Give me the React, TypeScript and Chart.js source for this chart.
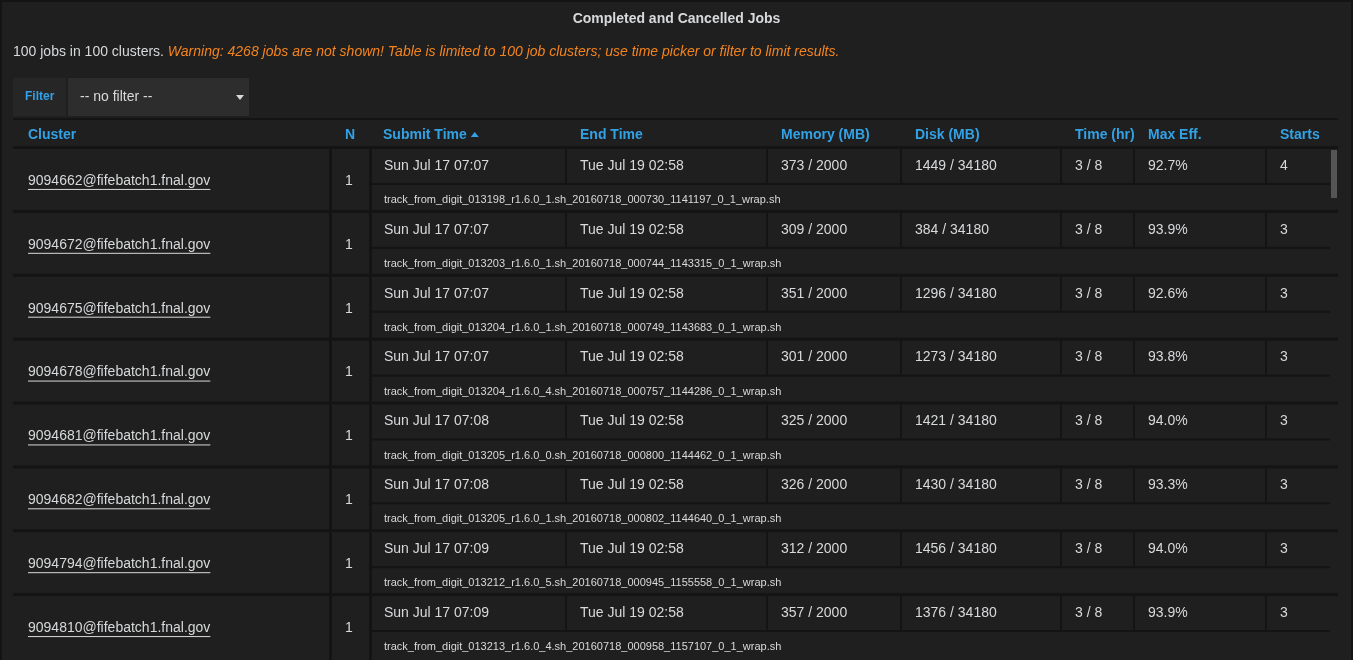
import { useEffect, useRef } from 'react';
import { Chart, registerables } from 'chart.js';

Chart.register(...registerables);

const clusters = ['9094662@fifebatch1.fnal.gov', '9094672@fifebatch1.fnal.gov', '9094675@fifebatch1.fnal.gov', '9094678@fifebatch1.fnal.gov', '9094681@fifebatch1.fnal.gov', '9094682@fifebatch1.fnal.gov', '9094794@fifebatch1.fnal.gov', '9094810@fifebatch1.fnal.gov'];
const counts = [1, 1, 1, 1, 1, 1, 1, 1];
const submitTimes = ['Sun Jul 17 07:07', 'Sun Jul 17 07:07', 'Sun Jul 17 07:07', 'Sun Jul 17 07:07', 'Sun Jul 17 07:08', 'Sun Jul 17 07:08', 'Sun Jul 17 07:09', 'Sun Jul 17 07:09'];
const endTimes = ['Tue Jul 19 02:58', 'Tue Jul 19 02:58', 'Tue Jul 19 02:58', 'Tue Jul 19 02:58', 'Tue Jul 19 02:58', 'Tue Jul 19 02:58', 'Tue Jul 19 02:58', 'Tue Jul 19 02:58'];
const memoryUsed = [373, 309, 351, 301, 325, 326, 312, 357];
const memoryLimit = 2000;
const diskUsed = [1449, 384, 1296, 1273, 1421, 1430, 1456, 1376];
const diskLimit = 34180;
const hoursUsed = [3, 3, 3, 3, 3, 3, 3, 3];
const hoursLimit = 8;
const maxEff = [92.7, 93.9, 92.6, 93.8, 94.0, 93.3, 94.0, 93.9];
const starts = [4, 3, 3, 3, 3, 3, 3, 3];
const scripts = [
  'track_from_digit_013198_r1.6.0_1.sh_20160718_000730_1141197_0_1_wrap.sh',
  'track_from_digit_013203_r1.6.0_1.sh_20160718_000744_1143315_0_1_wrap.sh',
  'track_from_digit_013204_r1.6.0_1.sh_20160718_000749_1143683_0_1_wrap.sh',
  'track_from_digit_013204_r1.6.0_4.sh_20160718_000757_1144286_0_1_wrap.sh',
  'track_from_digit_013205_r1.6.0_0.sh_20160718_000800_1144462_0_1_wrap.sh',
  'track_from_digit_013205_r1.6.0_1.sh_20160718_000802_1144640_0_1_wrap.sh',
  'track_from_digit_013212_r1.6.0_5.sh_20160718_000945_1155558_0_1_wrap.sh',
  'track_from_digit_013213_r1.6.0_4.sh_20160718_000958_1157107_0_1_wrap.sh',
];
const headers = ['Cluster', 'N', 'Submit Time', 'End Time', 'Memory (MB)', 'Disk (MB)', 'Time (hr)', 'Max Eff.', 'Starts'];

const FONT = '"Liberation Sans", Arial, sans-serif';
const BLUE = '#33a2e5';
const TEXT = '#d8d9da';
const LINE = '#141414';
const BG = '#1f1f20';
// column text x and separator positions
const headX = [28, 345, 383, 580, 781, 915, 1075, 1148, 1280];
const cellX = [28, 349, 384, 580, 781, 915, 1075, 1148, 1280];
const seps = [329, 369, 565, 766, 900, 1060, 1133, 1265];

const tablePlugin = {
  id: 'jobTable',
  afterDraw(chart: Chart) {
    const ctx = chart.ctx;
    const y = chart.scales.y;
    const W = chart.width;
    ctx.save();
    ctx.fillStyle = '#141414';
    ctx.fillRect(0, 0, W, chart.height);
    ctx.fillStyle = BG;
    ctx.fillRect(2, 2, W - 4, chart.height - 2);
    ctx.textBaseline = 'middle';
    ctx.fillStyle = TEXT;
    ctx.font = `bold 14px ${FONT}`;
    ctx.textAlign = 'center';
    ctx.fillText('Completed and Cancelled Jobs', W / 2, 19);
    ctx.textAlign = 'left';
    ctx.font = `14px ${FONT}`;
    const lead = '100 jobs in 100 clusters. ';
    ctx.fillText(lead, 13, 52);
    const lw = ctx.measureText(lead).width;
    ctx.fillStyle = '#f4841e';
    ctx.font = `italic 14px ${FONT}`;
    ctx.fillText('Warning: 4268 jobs are not shown! Table is limited to 100 job clusters; use time picker or filter to limit results.', 13 + lw, 52);
    // filter
    ctx.fillStyle = '#262627';
    ctx.fillRect(13, 78, 53, 38);
    ctx.fillStyle = '#2d2d2e';
    ctx.fillRect(68, 78, 181, 38);
    ctx.fillStyle = BLUE;
    ctx.font = `bold 12px ${FONT}`;
    ctx.fillText('Filter', 25, 97);
    ctx.fillStyle = TEXT;
    ctx.font = `14px ${FONT}`;
    ctx.fillText('-- no filter --', 80, 97);
    ctx.beginPath();
    ctx.moveTo(236, 95); ctx.lineTo(244, 95); ctx.lineTo(240, 100); ctx.closePath();
    ctx.fill();
    // header
    ctx.fillStyle = LINE;
    ctx.fillRect(13, 118, 1325, 2);
    ctx.font = `bold 14px ${FONT}`;
    ctx.fillStyle = BLUE;
    headers.forEach((h, i) => ctx.fillText(h, headX[i], 135));
    const sw = ctx.measureText('Submit Time').width;
    ctx.beginPath();
    ctx.moveTo(headX[2] + sw + 4, 137); ctx.lineTo(headX[2] + sw + 12, 137); ctx.lineTo(headX[2] + sw + 8, 132); ctx.closePath();
    ctx.fill();
    // rows
    clusters.forEach((c, i) => {
      const top = y.getPixelForValue(i);
      const bot = y.getPixelForValue(i + 1);
      const mid = top + (bot - top) / 2 + 3;
      ctx.fillStyle = LINE;
      ctx.fillRect(13, top - 3, 1325, 3);
      ctx.fillRect(seps[0], top, 3, bot - top);
      ctx.fillRect(seps[1], top, 3, bot - top);
      ctx.fillRect(seps[1], mid - 1, 1330 - seps[1], 2);
      for (let k = 2; k < seps.length; k++) ctx.fillRect(seps[k], top, 2, mid - top);
      ctx.fillStyle = TEXT;
      ctx.font = `14px ${FONT}`;
      ctx.textAlign = 'left';
      const cy = top + (bot - top) / 2;
      ctx.fillText(c, cellX[0], cy);
      const cw = ctx.measureText(c).width;
      ctx.fillRect(cellX[0], cy + 8, cw, 1);
      ctx.textAlign = 'center';
      ctx.fillText(String(counts[i]), cellX[1], cy);
      ctx.textAlign = 'left';
      const ty = top + 17;
      ctx.fillText(submitTimes[i], cellX[2], ty);
      ctx.fillText(endTimes[i], cellX[3], ty);
      ctx.fillText(`${memoryUsed[i]} / ${memoryLimit}`, cellX[4], ty);
      ctx.fillText(`${diskUsed[i]} / ${diskLimit}`, cellX[5], ty);
      ctx.fillText(`${hoursUsed[i]} / ${hoursLimit}`, cellX[6], ty);
      ctx.fillText(`${maxEff[i].toFixed(1)}%`, cellX[7], ty);
      ctx.fillText(String(starts[i]), cellX[8], ty);
      ctx.font = `11px ${FONT}`;
      ctx.fillText(scripts[i], cellX[2], top + 51);
    });
    // scrollbar
    ctx.fillStyle = '#555';
    ctx.fillRect(1331, 150, 6, 48);
    ctx.restore();
  },
};

export default function App() {
  const canvasRef = useRef<HTMLCanvasElement>(null);

  useEffect(() => {
    document.body.style.margin = '0';
    document.body.style.background = BG;
    if (!canvasRef.current) return;
    const chart = new Chart(canvasRef.current, {
      type: 'bar',
      data: { labels: clusters, datasets: [{ data: [] }] },
      options: {
        animation: false,
        responsive: true,
        maintainAspectRatio: false,
        layout: { padding: { top: 149, bottom: 0, left: 13, right: 15 } },
        scales: {
          x: { display: false },
          y: { type: 'linear', display: false, min: 0, max: 8, reverse: true },
        },
        plugins: { legend: { display: false }, tooltip: { enabled: false } },
      },
      plugins: [tablePlugin],
    });
    return () => chart.destroy();
  }, []);

  return (
    <div style={{ position: 'relative', width: '1353px', height: '660px' }}>
      <canvas ref={canvasRef} role="img" aria-label="Completed and Cancelled Jobs table" />
    </div>
  );
}
